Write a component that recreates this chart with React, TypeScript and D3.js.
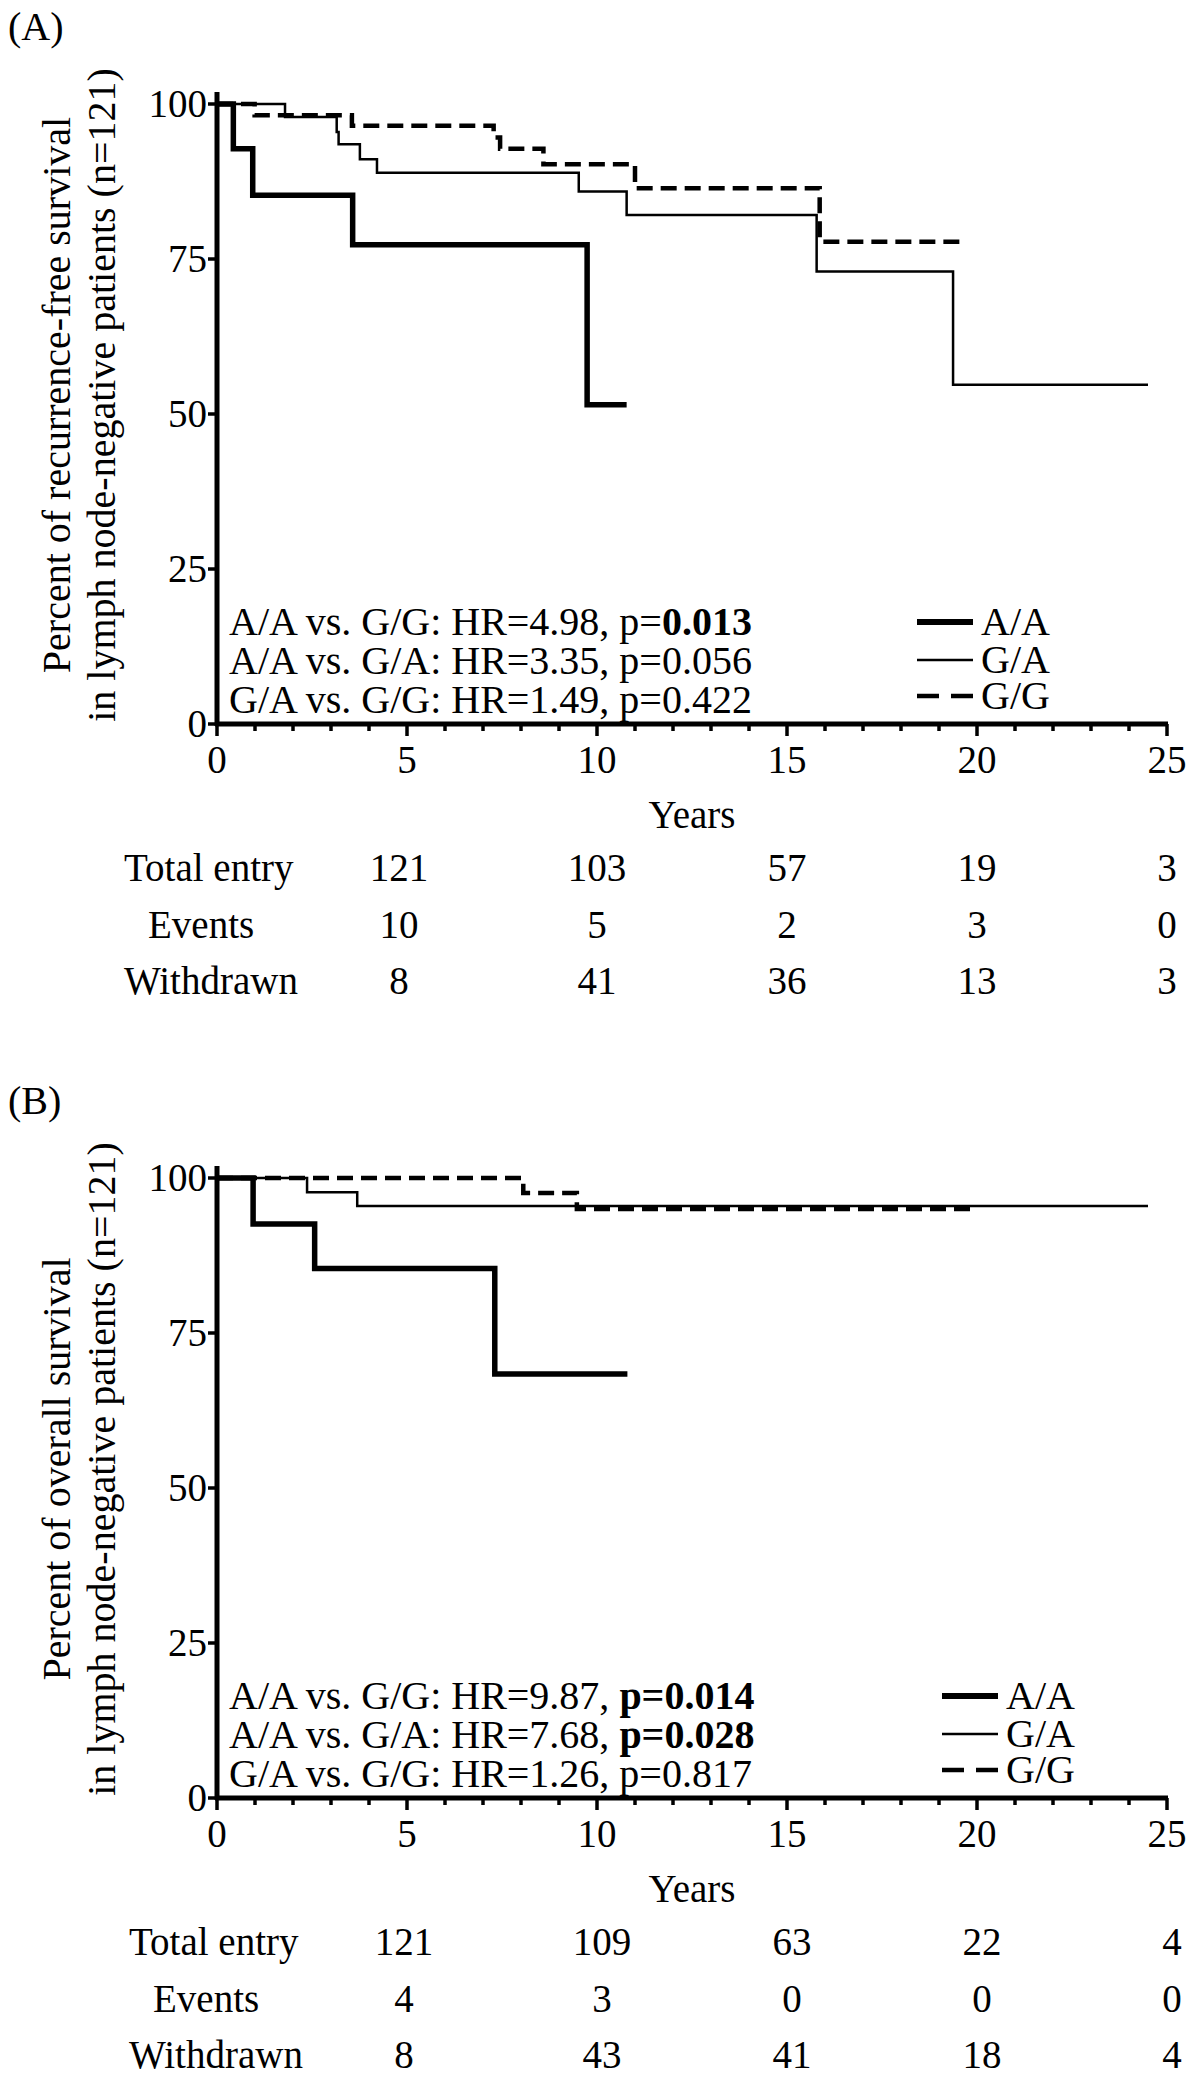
import React from "react";
import * as d3 from "d3";

// ---------- data ----------
const X_TICKS = [0, 5, 10, 15, 20, 25];
const Y_TICKS = [0, 25, 50, 75, 100];
const GENOTYPES = ["A/A", "G/A", "G/G"];
const TABLE_ROWS = ["Total entry", "Events", "Withdrawn"];
const TABLE_YEARS = [5, 10, 15, 20, 25];

// Panel A: recurrence-free survival  [years, percent]
const rfsAA: [number, number][] = [[0, 100], [0.43, 92.8], [0.94, 85.3], [3.57, 77.3], [9.74, 51.5], [10.78, 51.5]];
const rfsGA: [number, number][] = [[0, 100], [1.79, 97.9], [3.15, 95.5], [3.2, 93.5], [3.76, 91.1], [4.21, 88.9], [9.52, 85.9], [10.78, 82.1], [15.78, 73.0], [19.37, 54.7], [24.5, 54.7]];
const rfsGG: [number, number][] = [[0, 100], [0.99, 98.2], [3.55, 96.5], [7.28, 94.6], [7.45, 92.8], [8.59, 90.3], [11.0, 86.4], [15.86, 77.8], [19.62, 77.8]];

// Panel B: overall survival
const osAA: [number, number][] = [[0, 100], [0.95, 92.6], [2.57, 85.4], [7.31, 68.4], [10.8, 68.4]];
const osGA: [number, number][] = [[0, 100], [2.37, 97.7], [3.69, 95.5], [24.5, 95.5]];
const osGG: [number, number][] = [[0, 100], [8.06, 97.6], [9.47, 95.0], [19.84, 95.0]];

const rfsTotal = [121, 103, 57, 19, 3];
const rfsEvents = [10, 5, 2, 3, 0];
const rfsWithdrawn = [8, 41, 36, 13, 3];
const osTotal = [121, 109, 63, 22, 4];
const osEvents = [4, 3, 0, 0, 0];
const osWithdrawn = [8, 43, 41, 18, 4];

type Seg = { t: string; b?: boolean };
const rfsStats: Seg[][] = [
  [{ t: "A/A vs. G/G: HR=4.98, p=" }, { t: "0.013", b: true }],
  [{ t: "A/A vs. G/A: HR=3.35, p=0.056" }],
  [{ t: "G/A vs. G/G: HR=1.49, p=0.422" }],
];
const osStats: Seg[][] = [
  [{ t: "A/A vs. G/G: HR=9.87, " }, { t: "p=0.014", b: true }],
  [{ t: "A/A vs. G/A: HR=7.68, " }, { t: "p=0.028", b: true }],
  [{ t: "G/A vs. G/G: HR=1.26, p=0.817" }],
];

const rfsTitle = ["Percent of recurrence-free survival", "in lymph node-negative patients (n=121)"];
const osTitle = ["Percent of overall survival", "in lymph node-negative patients (n=121)"];

// ---------- layout ----------
const W = 1200;
const H = 2084;
const FONT = "'Liberation Serif', 'Times New Roman', Times, serif";
const PLOT_H = 620;
const X0 = 217;
const X1 = 1167;

const seriesStyle = [
  { w: 5.5, dash: undefined as string | undefined },
  { w: 2.5, dash: undefined as string | undefined },
  { w: 4.5, dash: "16,8" },
];
const legendWidths = [6, 2.5, 4.5];

const panels = [
  {
    label: "(A)", top: 104, title: rfsTitle, curves: [rfsAA, rfsGA, rfsGG], stats: rfsStats,
    table: [rfsTotal, rfsEvents, rfsWithdrawn], legendX: 917, tableShift: 0,
  },
  {
    label: "(B)", top: 1178, title: osTitle, curves: [osAA, osGA, osGG], stats: osStats,
    table: [osTotal, osEvents, osWithdrawn], legendX: 942, tableShift: 5,
  },
];

const labelIndent = [0, 24, 0];

function Panel({ p }: { p: (typeof panels)[number] }) {
  const x = d3.scaleLinear().domain([0, 25]).range([X0, X1]);
  const y = d3.scaleLinear().domain([0, 100]).range([p.top + PLOT_H, p.top]);
  const y0 = y(0);
  const line = d3
    .line<[number, number]>()
    .x((d) => x(d[0]))
    .y((d) => y(d[1]))
    .curve(d3.curveStepAfter);
  const minor = d3.range(0, 26);
  const fs = 40;
  const tableRowDy = [157, 214, 270];
  const statDy = [-89, -50, -11];
  const legendDy = [-89, -51, -15];

  return (
    <g fontFamily={FONT} fill="#000">
      <text x={8} y={p.top - 64} fontSize={fs}>{p.label}</text>

      {/* y-axis title */}
      {p.title.map((t, i) => (
        <text
          key={i}
          transform={`translate(${70 + i * 45},${p.top + 291}) rotate(-90)`}
          textAnchor="middle"
          fontSize={fs}
        >
          {t}
        </text>
      ))}

      {/* curves */}
      {p.curves.map((c, i) => (
        <path
          key={i}
          d={line(c) || ""}
          fill="none"
          stroke="#000"
          strokeWidth={seriesStyle[i].w}
          strokeDasharray={seriesStyle[i].dash}
          strokeLinejoin="miter"
        />
      ))}

      {/* y axis */}
      <line x1={X0} x2={X0} y1={y0 + 2} y2={p.top - 12} stroke="#000" strokeWidth={5} />
      {Y_TICKS.map((v) => (
        <g key={v}>
          <line x1={X0 - 9} x2={X0} y1={y(v)} y2={y(v)} stroke="#000" strokeWidth={3.5} />
          <text x={X0 - 10} y={y(v)} dy="0.34em" textAnchor="end" fontSize={39}>
            {v}
          </text>
        </g>
      ))}

      {/* x axis */}
      <line x1={X0 - 2} x2={X1 + 1} y1={y0} y2={y0} stroke="#000" strokeWidth={5} />
      {minor.map((v) => (
        <line
          key={v}
          x1={x(v)}
          x2={x(v)}
          y1={y0}
          y2={y0 + (v % 5 === 0 ? 12 : 7)}
          stroke="#000"
          strokeWidth={3.5}
        />
      ))}
      {X_TICKS.map((v) => (
        <text key={v} x={x(v)} y={y0 + 49} textAnchor="middle" fontSize={39}>
          {v}
        </text>
      ))}
      <text x={(X0 + X1) / 2} y={y0 + 104} textAnchor="middle" fontSize={39}>
        Years
      </text>

      {/* statistics */}
      {p.stats.map((segs, i) => (
        <text key={i} x={229} y={y0 + statDy[i]} fontSize={fs} style={{ whiteSpace: "pre" }}>
          {segs.map((s, j) => (
            <tspan key={j} fontWeight={s.b ? "bold" : "normal"}>
              {s.t}
            </tspan>
          ))}
        </text>
      ))}

      {/* legend */}
      {GENOTYPES.map((g, i) => (
        <g key={g}>
          <line
            x1={p.legendX}
            x2={p.legendX + 56}
            y1={y0 + legendDy[i] - 13}
            y2={y0 + legendDy[i] - 13}
            stroke="#000"
            strokeWidth={legendWidths[i]}
            strokeDasharray={i === 2 ? "22,12" : undefined}
          />
          <text x={p.legendX + 64} y={y0 + legendDy[i]} fontSize={fs}>
            {g}
          </text>
        </g>
      ))}

      {/* number-at-risk table */}
      {TABLE_ROWS.map((r, i) => (
        <g key={r}>
          <text x={124 + p.tableShift + labelIndent[i]} y={y0 + tableRowDy[i]} fontSize={39}>
            {r}
          </text>
          {p.table[i].map((v, j) => (
            <text
              key={j}
              x={x(TABLE_YEARS[j]) + p.tableShift - (j === 0 ? 8 : 0)}
              y={y0 + tableRowDy[i]}
              textAnchor="middle"
              fontSize={39}
            >
              {v}
            </text>
          ))}
        </g>
      ))}
    </g>
  );
}

export default function App() {
  return (
    <svg
      width={W}
      height={H}
      viewBox={`0 0 ${W} ${H}`}
      style={{ position: "absolute", left: 0, top: 0, background: "#fff", display: "block" }}
    >
      <rect width={W} height={H} fill="#fff" />
      {panels.map((p) => (
        <Panel key={p.label} p={p} />
      ))}
    </svg>
  );
}
